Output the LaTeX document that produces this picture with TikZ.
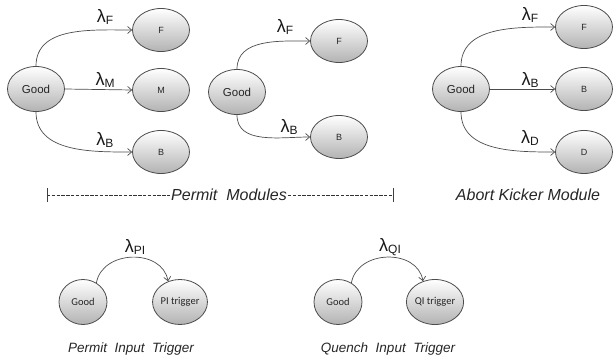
\documentclass[tikz,border=0pt]{standalone}
\usepackage{fontspec}
\setmainfont{Liberation Sans}
\newfontfamily\triggerfont{Carlito}
\usetikzlibrary{shapes.geometric,arrows.meta}
\tikzset{
    state-node/.style = {draw=black!70, ellipse, line width=0.8pt, top color=white, bottom color=black!30, minimum width=57pt, minimum height=43pt, inner sep=0pt, text=black!85, font=\fontsize{9}{10}\selectfont},
    good-node/.style = {state-node, minimum height=45pt, font=\fontsize{11.5}{12}\selectfont},
    trigger-node/.style = {state-node, minimum width=48pt, minimum height=45pt, font=\triggerfont\fontsize{10.5}{12}\selectfont},
    trans-arrow/.style = {-{Straight Barb[length=4pt,width=7pt]}, draw=black!70, line width=0.7pt},
    rate-label/.style = {text=black!90, inner sep=0pt},
    caption-text/.style = {text=black!85, font=\itshape\fontsize{16}{17}\selectfont},
    dash-line/.style = {draw=black!80, line width=0.9pt, dash pattern=on 3.4pt off 1.4pt},
}
\newcommand{\rate}[1]{{\fontsize{18}{18}\selectfont λ}\raisebox{-0.5ex}{\fontsize{12}{12}\selectfont #1}}

\begin{document}
\begin{tikzpicture}
\useasboundingbox (0,0) rectangle (613pt,-364pt);

% permit module with three failure modes
\node[good-node] (good-a) at (36pt,-89pt) {Good};
\node[state-node] (fail-a) at (161pt,-30pt) {F};
\node[state-node] (miss-a) at (161pt,-90pt) {M};
\node[state-node] (beam-a) at (161pt,-152pt) {B};
\draw[trans-arrow] (good-a.north) to[out=90,in=180] (fail-a.west);
\draw[trans-arrow] (good-a.east) -- (miss-a.west);
\draw[trans-arrow] (good-a.south) to[out=-90,in=180] (beam-a.west);
\node[rate-label] at (105pt,-17pt) {\rate{F}};
\node[rate-label] at (105pt,-80pt) {\rate{M}};
\node[rate-label] at (105pt,-140pt) {\rate{B}};

% permit module with two failure modes
\node[good-node] (good-b) at (237pt,-92pt) {Good};
\node[state-node] (fail-b) at (339pt,-41pt) {F};
\node[state-node] (beam-b) at (339pt,-137pt) {B};
\draw[trans-arrow] (good-b.north) to[out=90,in=180] (fail-b.west);
\draw[trans-arrow] (good-b.south) to[out=-90,in=180] (beam-b.west);
\node[rate-label] at (285pt,-27pt) {\rate{F}};
\node[rate-label] at (289pt,-127pt) {\rate{B}};

% abort kicker module
\node[good-node] (good-c) at (461pt,-89pt) {Good};
\node[state-node] (fail-c) at (584pt,-27pt) {F};
\node[state-node] (beam-c) at (584pt,-89pt) {B};
\node[state-node] (dump-c) at (584pt,-152pt) {D};
\draw[trans-arrow] (good-c.north) to[out=90,in=180] (fail-c.west);
\draw[trans-arrow] (good-c.east) -- (beam-c.west);
\draw[trans-arrow] (good-c.south) to[out=-90,in=180] (dump-c.west);
\node[rate-label] at (530pt,-15pt) {\rate{F}};
\node[rate-label] at (530pt,-80pt) {\rate{B}};
\node[rate-label] at (530pt,-138pt) {\rate{D}};

% captions of the upper row
\node[caption-text, inner sep=1pt] (permit) at (229pt,-195pt) {Permit\ \ Modules};
\coordinate (permit-left) at (47pt,-195pt);
\coordinate (permit-right) at (393pt,-195pt);
\draw[dash-line] (permit-left) -- (permit.west);
\draw[dash-line] (permit.east) -- (permit-right);
\draw[black!75, line width=0.7pt] ([yshift=7pt]permit-left) -- ([yshift=-7pt]permit-left);
\draw[black!75, line width=0.7pt] ([yshift=7pt]permit-right) -- ([yshift=-7pt]permit-right);
\node[caption-text] (kicker) at (528pt,-195pt) {Abort Kicker Module};

% input triggers
\node[trigger-node] (good-d) at (83pt,-302pt) {Good};
\node[trigger-node] (trig-d) at (180pt,-302pt) {PI trigger};
\draw[trans-arrow] (good-d.55) to[out=80,in=100,looseness=1.2] (trig-d.120);
\node[rate-label] at (135pt,-247pt) {\rate{PI}};
\node[caption-text, font=\itshape\fontsize{13.5}{14}\selectfont] (permit-trig) at (131pt,-349pt) {Permit\ \ Input\ \ Trigger};

\node[trigger-node] (good-e) at (338pt,-302pt) {Good};
\node[trigger-node] (trig-e) at (435pt,-302pt) {QI trigger};
\draw[trans-arrow] (good-e.55) to[out=80,in=100,looseness=1.2] (trig-e.120);
\node[rate-label] at (390pt,-247pt) {\rate{QI}};
\node[caption-text, font=\itshape\fontsize{13.5}{14}\selectfont] (quench-trig) at (388pt,-349pt) {Quench\ \ Input\ \ Trigger};
\end{tikzpicture}
\end{document}
